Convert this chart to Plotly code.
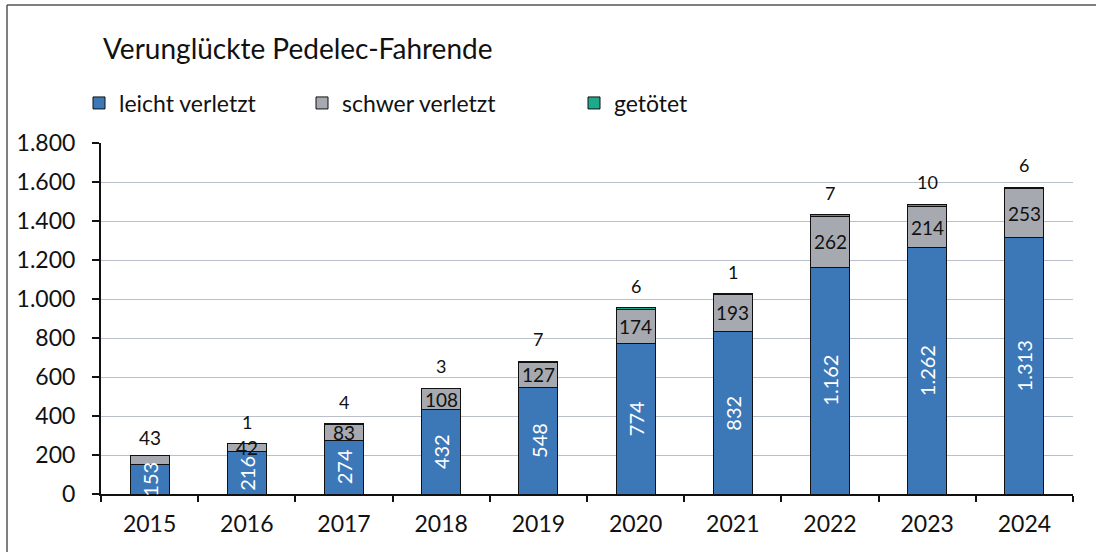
import plotly.graph_objects as go

years = ["2015", "2016", "2017", "2018", "2019", "2020", "2021", "2022", "2023", "2024"]
leicht = [153, 216, 274, 432, 548, 774, 832, 1162, 1262, 1313]
schwer = [43, 42, 83, 108, 127, 174, 193, 262, 214, 253]
getoetet = [None, 1, 4, 3, 7, 6, 1, 7, 10, 6]

C_BLUE = "#3C78B8"
C_GRAY = "#A6A9AF"
C_TEAL = "#1DAA8C"
FONT = "Lato"

def de(v):
    return f"{v:,}".replace(",", ".")

W, H = 1096, 552
PL, PR, PT, PB = 101, 1073, 143, 494
L, R, T, B = PL, W - PR, PT, H - PB
pw, ph = PR - PL, PB - PT

def px(x):
    return (x - PL) / pw

def py(y):
    return (PB - y) / ph

fig = go.Figure()
series = [("leicht verletzt", leicht, C_BLUE, "legend"),
          ("schwer verletzt", schwer, C_GRAY, "legend2"),
          ("getötet", [v or 0 for v in getoetet], C_TEAL, "legend3")]
for name, vals, col, lg in series:
    fig.add_trace(go.Bar(x=years, y=vals, name=name, legend=lg, showlegend=True,
                         marker=dict(color=col, line=dict(color="#111", width=1)),
                         width=0.4, hoverinfo="x+y+name"))

ann = []
for i, y in enumerate(years):
    l, s, g = leicht[i], schwer[i], getoetet[i]
    total = l + s + (g or 0)
    ann.append(dict(x=i, y=l / 2, text=de(l), textangle=-90, showarrow=False,
                    font=dict(color="white", size=20, family=FONT)))
    if s < 50 and i == 0:
        ann.append(dict(x=i, y=l + s, text=de(s), showarrow=False, yanchor="bottom",
                        yshift=5, font=dict(color="#111", size=19, family=FONT)))
    else:
        ann.append(dict(x=i, y=l + s / 2, text=de(s), showarrow=False,
                        font=dict(color="#111", size=19, family=FONT)))
    if g is not None:
        ann.append(dict(x=i, y=total, text=de(g), showarrow=False, yanchor="bottom",
                        yshift=9, font=dict(color="#111", size=18, family=FONT)))

def leg(text_x):
    return dict(orientation="h", xref="container", yref="container",
                x=(text_x - 40) / W, xanchor="left",
                y=1 - 103 / H, yanchor="middle", bgcolor="rgba(0,0,0,0)",
                font=dict(size=23, family=FONT, color="#111"), itemwidth=30)

frame = dict(color="#555", width=1.5)
fig.update_layout(
    width=W, height=H, barmode="stack", showlegend=True,
    separators=",.",
    paper_bgcolor="white", plot_bgcolor="white",
    margin=dict(l=L, r=R, t=T, b=B, autoexpand=False),
    font=dict(family=FONT, size=18, color="#111"),
    title=dict(text="Verunglückte Pedelec-Fahrende", x=103 / W, xanchor="left",
               y=1 - 49 / H, yanchor="middle",
               font=dict(size=28, family=FONT, color="#111")),
    legend=leg(119), legend2=leg(342), legend3=leg(614),
    annotations=ann,
    shapes=[dict(type="line", xref="paper", yref="paper",
                 x0=px(7), x1=px(1200), y0=py(5), y1=py(5), line=frame, layer="below"),
            dict(type="line", xref="paper", yref="paper",
                 x0=px(7), x1=px(7), y0=py(5), y1=py(700), line=frame, layer="below")],
)
fig.update_yaxes(range=[0, 1800], dtick=200, tickformat=",d",
                 showgrid=True, gridcolor="#B9C0CB", gridwidth=1,
                 showline=True, linecolor="#111", linewidth=2,
                 ticks="outside", ticklen=7, tickcolor="#111", tickwidth=2,
                 ticklabelstandoff=12,
                 zeroline=False, tickfont=dict(size=23, family=FONT))
fig.update_xaxes(type="category", range=[-0.5, 9.5], showline=True, linecolor="#111", linewidth=2,
                 ticks="outside", ticklen=6, tickcolor="#111", tickwidth=2,
                 tickson="boundaries", ticklabelstandoff=8,
                 tickfont=dict(size=23, family=FONT))

fig.write_html("out.html", config={"displayModeBar": False},
               post_script="document.body.style.margin='0';")
